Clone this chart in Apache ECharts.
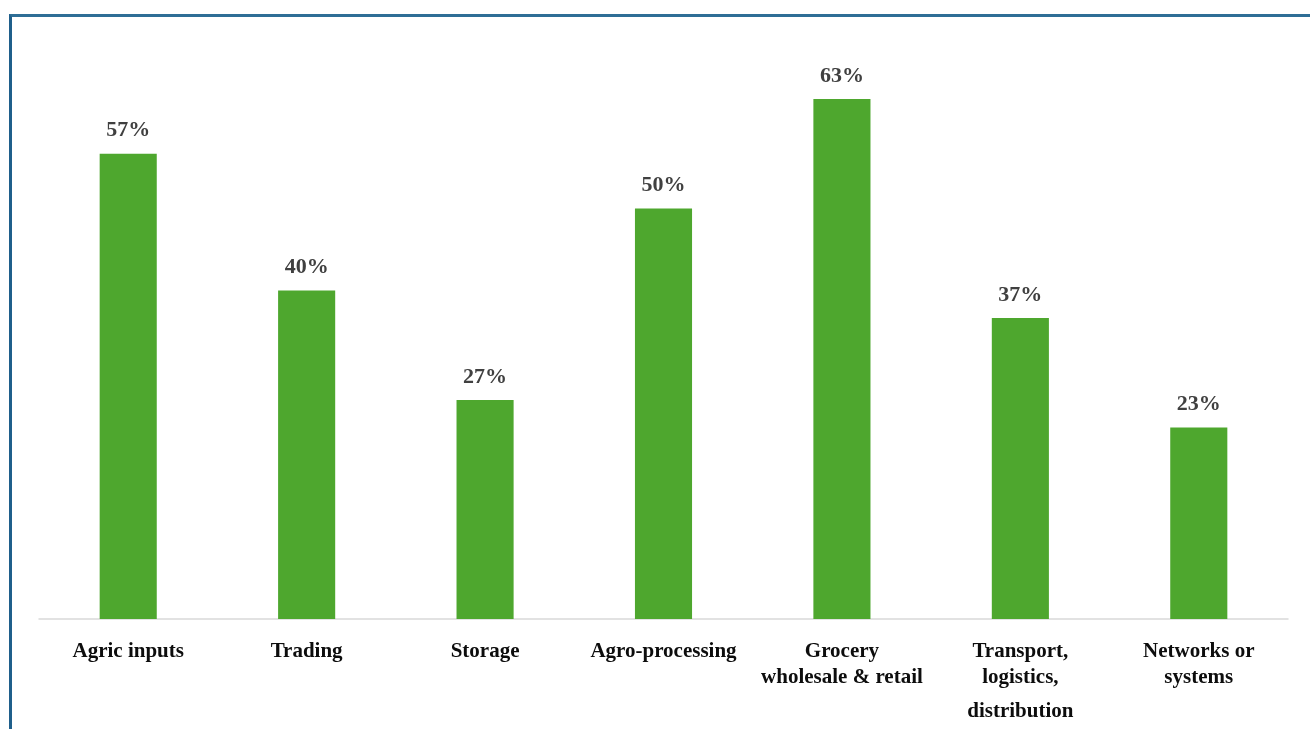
<!DOCTYPE html>
<html>
<head>
<meta charset="utf-8">
<script src="https://cdn.jsdelivr.net/npm/echarts@6/dist/echarts.min.js"></script>
<style>
html,body{margin:0;padding:0;background:#fff;}
#frame{position:absolute;left:9px;top:14px;width:1301px;height:715px;border-left:3px solid #1F5F8B;border-top:3px solid #2E6E96;box-sizing:border-box;}
#chart{position:absolute;left:0;top:0;width:1310px;height:729px;}
</style>
</head>
<body>
<div id="chart"></div>
<div id="frame"></div>
<script>
const categories = ['Agric inputs', 'Trading', 'Storage', 'Agro-processing', 'Grocery\nwholesale & retail', 'Transport,\nlogistics,\n{c|distribution}', 'Networks or\nsystems'];
const values = [56.67, 40, 26.67, 50, 63.33, 36.67, 23.33];

const chart = echarts.init(document.getElementById('chart'));
chart.setOption({
  animation: false,
  grid: {left: 39, right: 22, top: 44.3, bottom: 110, containLabel: false, outerBoundsMode: 'none'},
  xAxis: {
    type: 'category',
    data: categories,
    axisLine: {lineStyle: {color: '#d9d9d9', width: 1.5}},
    axisTick: {show: false},
    axisLabel: {
      interval: 0,
      margin: 20,
      color: '#0d0d0d',
      fontFamily: 'Liberation Serif',
      fontWeight: 'bold',
      fontSize: 21,
      lineHeight: 26,
      rich: {
        c: {fontFamily: 'Liberation Serif', fontWeight: 'bold', fontSize: 21, color: '#0d0d0d', lineHeight: 42}
      }
    }
  },
  yAxis: {
    type: 'value',
    min: 0, max: 70,
    show: false,
    splitLine: {show: false}
  },
  series: [{
    type: 'bar',
    data: values,
    barWidth: '32%',
    itemStyle: {color: '#4EA72E'},
    label: {
      show: true,
      position: 'top',
      distance: 12,
      color: '#404040',
      fontFamily: 'Liberation Serif',
      fontWeight: 'bold',
      fontSize: 22,
      formatter: p => Math.round(p.value) + '%'
    }
  }]
});
</script>
</body>
</html>
